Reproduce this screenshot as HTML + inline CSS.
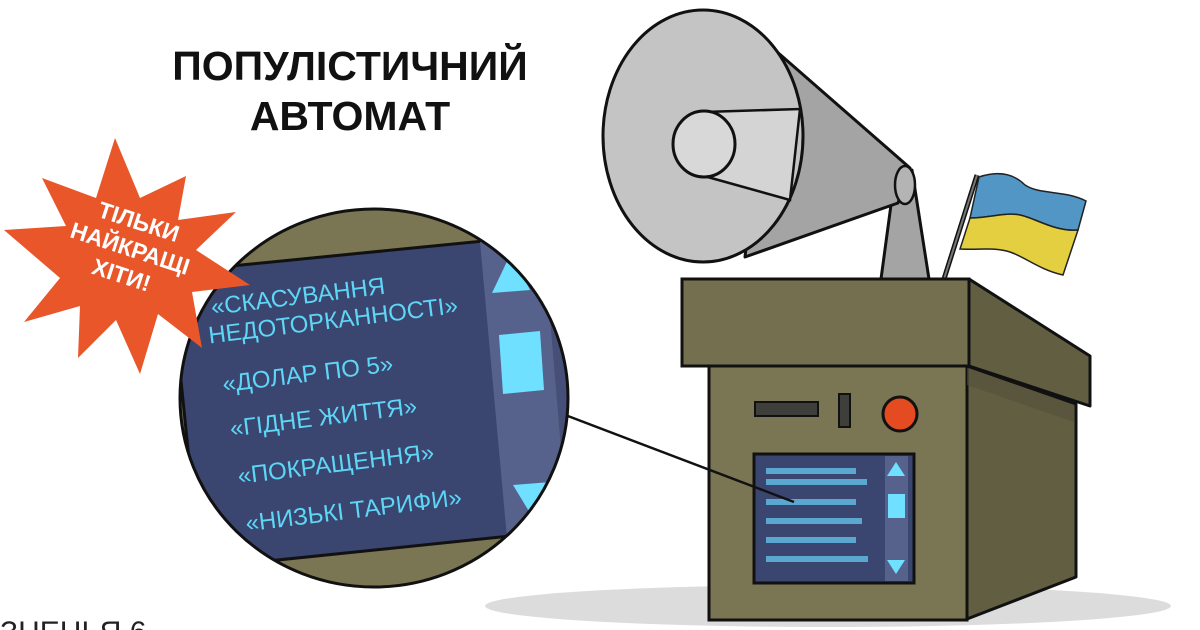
<!DOCTYPE html>
<html><head><meta charset="utf-8"><style>
html,body{margin:0;padding:0;background:#fff;width:1200px;height:630px;overflow:hidden}
svg{display:block}
</style></head><body>
<svg width="1200" height="630" viewBox="0 0 1200 630" xmlns="http://www.w3.org/2000/svg" font-family="Liberation Sans, DejaVu Sans, sans-serif">
<defs>
<clipPath id="cc"><ellipse cx="374" cy="398" rx="194" ry="189"/></clipPath>
</defs>
<!-- title -->
<text x="350" y="80" font-size="41" font-weight="bold" text-anchor="middle" fill="#111">ПОПУЛІСТИЧНИЙ</text>
<text x="350" y="130" font-size="41" font-weight="bold" text-anchor="middle" fill="#111">АВТОМАТ</text>

<!-- shadow -->
<ellipse cx="828" cy="606" rx="343" ry="21" fill="#dcdcdc"/>

<!-- megaphone stand -->
<polygon points="881,279 929,279 912,170 893,190" fill="#a4a4a4" stroke="#111" stroke-width="3" stroke-linejoin="round"/>
<!-- cone -->
<polygon points="768,44 910,168 898,203 745,257" fill="#a4a4a4" stroke="#111" stroke-width="3" stroke-linejoin="round"/>
<ellipse cx="905" cy="185" rx="10" ry="19" fill="#b4b4b4" stroke="#111" stroke-width="2.5"/>
<ellipse cx="703" cy="136" rx="100" ry="126" fill="#c4c4c4" stroke="#111" stroke-width="3"/>
<polygon points="704,112 800,109 790,200 704,176" fill="#d4d4d4" stroke="#111" stroke-width="2.5"/>
<ellipse cx="704" cy="144" rx="31" ry="33" fill="#d8d8d8" stroke="#111" stroke-width="3"/>

<!-- flag -->
<line x1="977" y1="175" x2="944" y2="279" stroke="#111" stroke-width="5"/>
<line x1="977" y1="175" x2="944" y2="279" stroke="#777" stroke-width="2"/>
<path d="M979,177 C1000,170 1015,175 1025,185 C1040,195 1065,190 1086,201 L1078,230 C1055,232 1035,218 1020,215 C1005,212 990,218 970,218 Z" fill="#5196c4" stroke="#222" stroke-width="1.5"/>
<path d="M970,218 C990,218 1005,212 1020,215 C1035,218 1055,232 1078,230 L1063,275 C1040,270 1025,257 1010,252 C995,247 980,250 960,249 Z" fill="#e4cf40" stroke="#222" stroke-width="1.5"/>

<!-- box lid -->
<polygon points="969,279 1090,356 1090,406 969,366" fill="#615e42" stroke="#111" stroke-width="3" stroke-linejoin="round"/>
<rect x="682" y="279" width="287" height="87" fill="#736f4f" stroke="#111" stroke-width="3"/>
<!-- body -->
<polygon points="967,366 1076,404 1076,577 967,619" fill="#615e42" stroke="#111" stroke-width="3" stroke-linejoin="round"/>
<rect x="709" y="366" width="258" height="254" fill="#7a7553" stroke="#111" stroke-width="3"/>
<polygon points="967,368 1074,405 1074,422 967,385" fill="#55523a" opacity="0.6"/>
<rect x="755" y="402" width="63" height="14" fill="#3e3e3a" stroke="#111" stroke-width="2"/>
<rect x="839" y="394" width="11" height="33" fill="#3e3e3a" stroke="#111" stroke-width="2"/>
<circle cx="900" cy="414" r="17" fill="#e44b20" stroke="#111" stroke-width="3"/>
<!-- small screen -->
<rect x="754" y="454" width="160" height="129" fill="#3b4670" stroke="#111" stroke-width="3"/>
<rect x="885" y="456" width="23" height="125" fill="#57628c"/>
<g fill="#5aa8d0">
<rect x="766" y="468" width="90" height="6"/><rect x="766" y="479" width="101" height="6"/>
<rect x="766" y="499" width="90" height="6"/><rect x="766" y="518" width="96" height="6"/>
<rect x="766" y="537" width="90" height="6"/><rect x="766" y="556" width="102" height="6"/>
</g>
<polygon points="896,462 905,476 887,476" fill="#6fe0ff"/>
<rect x="888" y="494" width="17" height="24" fill="#6fe0ff"/>
<polygon points="887,560 905,560 896,574" fill="#6fe0ff"/>
<line x1="560" y1="413" x2="794" y2="502" stroke="#111" stroke-width="2.5"/>

<!-- magnifier circle -->
<ellipse cx="374" cy="398" rx="194" ry="189" fill="#7a7553"/>
<g clip-path="url(#cc)">
<polygon points="170,272 494,240 520,535 200,568" fill="#3b4670" stroke="#111" stroke-width="3"/>
<polygon points="480,242 543,236 568,532 507,538" fill="#57628c"/>
<polygon points="543,236 560,234 585,530 568,532" fill="#454f78"/>
<polygon points="511,253 530,290 492,293" fill="#6fe0ff"/>
<polygon points="499,335 540,331 544,390 503,394" fill="#6fe0ff"/>
<polygon points="513,485 551,482 530,513" fill="#6fe0ff"/>
<g fill="#5ed6f6" font-size="24" transform="rotate(-7 212 315)">
<text x="212" y="315">«СКАСУВАННЯ</text>
<text x="206" y="343">НЕДОТОРКАННОСТІ»</text>
<text x="214" y="393">«ДОЛАР ПО 5»</text>
<text x="216" y="438">«ГІДНЕ ЖИТТЯ»</text>
<text x="218" y="486">«ПОКРАЩЕННЯ»</text>
<text x="220" y="534">«НИЗЬКІ ТАРИФИ»</text>
</g>
</g>
<ellipse cx="374" cy="398" rx="194" ry="189" fill="none" stroke="#111" stroke-width="3"/>

<!-- starburst -->
<polygon fill="#e8562a" points="115,138 140,198 186,176 178,220 236,212 196,250 250,285 192,292 202,348 158,314 140,374 116,320 78,358 80,306 24,322 60,278 4,230 66,226 42,178 96,198" />
<g fill="#fff" font-size="23" font-weight="bold" text-anchor="middle" transform="rotate(18 128 255)">
<text x="128" y="228">ТІЛЬКИ</text>
<text x="128" y="256">НАЙКРАЩІ</text>
<text x="128" y="284">ХІТИ!</text>
</g>

<!-- cut-off bottom text -->
<text x="0" y="642" font-size="30" fill="#222">ЗНЕНЬЯ 6</text>
<text x="930" y="642" font-size="20" fill="#444">· ·  ·  · ·</text>
</svg>
</body></html>
